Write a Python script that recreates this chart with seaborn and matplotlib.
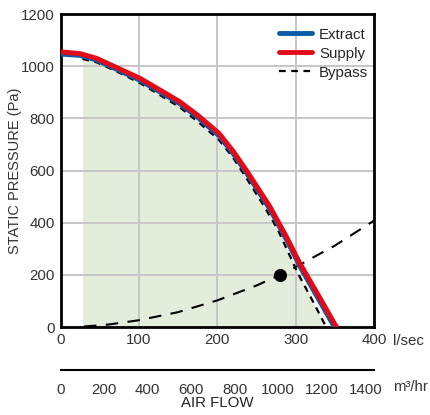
import numpy as np
import pandas as pd
import matplotlib
matplotlib.use("Agg")
import matplotlib.pyplot as plt
import seaborn as sns
from matplotlib.lines import Line2D

# Dados (l/sec, Pa)
supply_flow = [0, 25, 46, 75, 101, 125, 152, 175, 202, 220, 237, 267, 288, 305, 330, 352]
supply_pa = [1055, 1048, 1030, 990, 954, 912, 864, 812, 743, 675, 601, 462, 347, 246, 116, 0]

extract_flow = [0, 25, 46, 75, 101, 125, 152, 175, 202, 220, 237, 267, 288, 305, 330, 349]
extract_pa = [1045, 1040, 1022, 982, 945, 903, 855, 802, 732, 664, 590, 450, 334, 232, 100, 0]

bypass_flow = [28, 46, 75, 101, 125, 152, 175, 202, 220, 237, 260, 277, 303, 320, 339]
bypass_pa = [1028, 1015, 975, 936, 893, 843, 788, 718, 650, 572, 462, 375, 205, 110, 0]

system_flow = [30, 60, 100, 150, 200, 250, 280, 300, 350, 400]
system_pa = [2, 9, 26, 57, 102, 159, 200, 230, 312, 408]

duty_flow = [280]
duty_pa = [200]

ls_ticks = [0, 100, 200, 300, 400]
pa_ticks = [0, 200, 400, 600, 800, 1000, 1200]
m3h_ticks = [0, 200, 400, 600, 800, 1000, 1200, 1400]

sns.set_style("white")
plt.rcParams["font.family"] = ["Liberation Sans", "DejaVu Sans"]

BLUE = "#0b5aa8"
RED = "#e30a17"
GREEN = "#e2eddb"
GRID = "#c6c6c6"
TXT = "#333333"
FS = 10.8

fig = plt.figure(figsize=(4.3, 4.15), dpi=100)
ax = fig.add_axes([0.1407, 0.2120, 0.7291, 0.7542])

# Área de operação
ax.fill_between(bypass_flow, bypass_pa, 0, color=GREEN, lw=0, zorder=0)

df_ext = pd.DataFrame({"flow": extract_flow, "pa": extract_pa})
df_sup = pd.DataFrame({"flow": supply_flow, "pa": supply_pa})
df_byp = pd.DataFrame({"flow": bypass_flow, "pa": bypass_pa})
df_sys = pd.DataFrame({"flow": system_flow, "pa": system_pa})

sns.lineplot(data=df_sys, x="flow", y="pa", ax=ax, color="black", lw=1.5,
             linestyle=(0, (6, 4.5)), zorder=3)
sns.lineplot(data=df_byp, x="flow", y="pa", ax=ax, color="black", lw=1.6,
             linestyle=(0, (3, 2.5)), zorder=4)
sns.lineplot(data=df_ext, x="flow", y="pa", ax=ax, color=BLUE, lw=3, zorder=5)
sns.lineplot(data=df_sup, x="flow", y="pa", ax=ax, color=RED, lw=3.6, zorder=6)
sns.scatterplot(x=duty_flow, y=duty_pa, ax=ax, color="black", s=75,
                edgecolor="black", zorder=7)

ax.set_xlim(0, 400)
ax.set_ylim(0, 1200)
ax.set_xticks(ls_ticks)
ax.set_yticks(pa_ticks)
ax.set_axisbelow(True)
ax.grid(True, color=GRID, lw=1.4)
for s in ax.spines.values():
    s.set_color("black")
    s.set_linewidth(2)
ax.tick_params(length=0, labelsize=FS, labelcolor=TXT, pad=4)
ax.set_xlabel("")
ax.set_ylabel("STATIC PRESSURE (Pa)", fontsize=10.5, color=TXT)
ax.yaxis.set_label_coords(-0.123, 0.5)
fig.text(0.913, 0.178, "l/sec", fontsize=FS, color=TXT, va="center", ha="left")

handles = [
    Line2D([], [], color=BLUE, lw=3.5),
    Line2D([], [], color=RED, lw=3.5),
    Line2D([], [], color="black", lw=1.6, linestyle=(0, (3, 2.5))),
]
ax.legend(handles, ["Extract", "Supply", "Bypass"], loc="upper right",
          bbox_to_anchor=(1.015, 0.99),
          frameon=False, fontsize=FS, handlelength=2.2, labelspacing=0.33,
          borderaxespad=0.3, handletextpad=0.45)

# Eixo secundário em m³/hr
ax2 = fig.add_axes([0.1407, 0.1084, 0.7291, 0.001])
ax2.set_xlim(0, 400 * 3.6)
ax2.set_xticks(m3h_ticks)
ax2.set_yticks([])
for k in ["left", "right", "top"]:
    ax2.spines[k].set_visible(False)
ax2.spines["bottom"].set_linewidth(1.5)
ax2.spines["bottom"].set_color("black")
ax2.tick_params(axis="x", length=4, width=1, color="#aaaaaa", labelsize=FS,
                labelcolor=TXT, pad=5)
t0 = ax2.xaxis.get_major_ticks()[0]
t0.tick1line.set_color("black")
t0.tick1line.set_markeredgewidth(2.5)
ax2.patch.set_alpha(0)
fig.text(0.913, 0.0675, "m³/hr", fontsize=FS, color=TXT, va="center",
         ha="left")
fig.text(0.505, 0.028, "AIR FLOW", fontsize=FS, color="#222222",
         ha="center", va="center")

fig.savefig("out.png", dpi=100)
